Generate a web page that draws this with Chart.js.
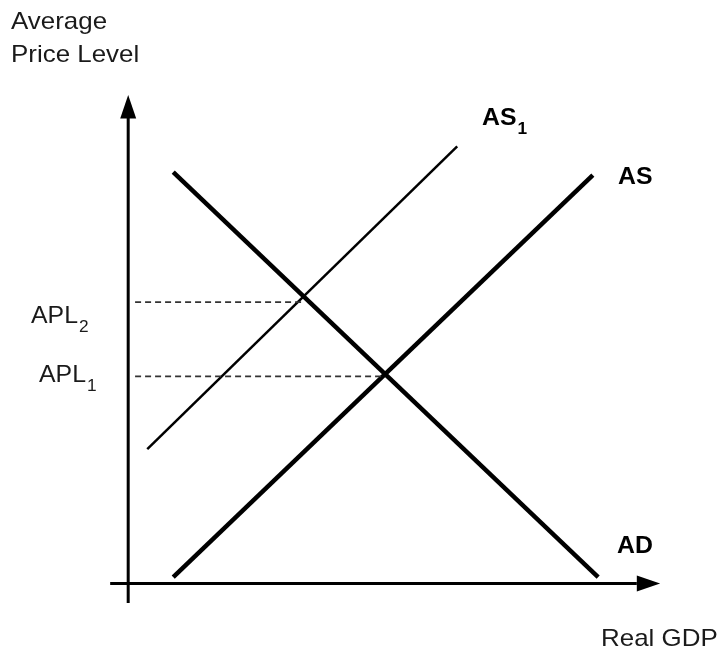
<!DOCTYPE html>
<html>
<head>
<meta charset="utf-8">
<script src="https://cdn.jsdelivr.net/npm/chart.js@4.4.0/dist/chart.umd.min.js"></script>
<style>
    html, body { margin: 0; padding: 0; background: #fff; }
</style>
</head>
<body>
<canvas id="myChart" width="717" height="648"></canvas>
<script>
// curve end points in (Real GDP, price level) units
const adX = [0.85, 8.87];
const adY = [8.42, 0.13];
const asX = [0.85, 8.77];
const asY = [0.13, 8.36];
const as1X = [0.36, 6.21];
const as1Y = [2.75, 8.95];
// equilibrium price levels and where the dashed guides stop
const aplNames = ['APL1', 'APL2'];
const aplY = [4.24, 5.76];
const aplX = [4.85, 3.28];
const guideStart = 0.13;

const toPoints = (xs, ys) => xs.map((v, i) => ({ x: v, y: ys[i] }));
const font = '"Liberation Sans", Arial, sans-serif';
const stretch = 1.08; // the reference text is a bit wide

// axes with arrow heads, drawn through the scales
const axesArrows = {
    id: 'axesArrows',
    beforeDatasetsDraw(chart) {
        const { ctx, scales: { x, y } } = chart;
        const x0 = x.getPixelForValue(0);
        const y0 = y.getPixelForValue(0);
        ctx.save();
        ctx.strokeStyle = '#000';
        ctx.fillStyle = '#000';
        ctx.lineWidth = 3;
        ctx.beginPath();
        ctx.moveTo(x0, y.getPixelForValue(-0.4));
        ctx.lineTo(x0, y.getPixelForValue(9.55));
        ctx.moveTo(x.getPixelForValue(-0.34), y0);
        ctx.lineTo(x.getPixelForValue(9.6), y0);
        ctx.stroke();
        // y arrow
        const yTip = y.getPixelForValue(10);
        const yBase = y.getPixelForValue(9.52);
        ctx.beginPath();
        ctx.moveTo(x0, yTip);
        ctx.lineTo(x0 - 8, yBase);
        ctx.lineTo(x0 + 8, yBase);
        ctx.closePath();
        ctx.fill();
        // x arrow
        const xTip = x.getPixelForValue(10.04);
        const xBase = x.getPixelForValue(9.6);
        ctx.beginPath();
        ctx.moveTo(xTip, y0);
        ctx.lineTo(xBase, y0 - 8);
        ctx.lineTo(xBase, y0 + 8);
        ctx.closePath();
        ctx.fill();
        ctx.restore();
    }
};

function wideText(ctx, txt, px, py) {
    ctx.save();
    ctx.translate(px, py);
    ctx.scale(stretch, 1);
    ctx.fillText(txt, 0, 0);
    ctx.restore();
    return ctx.measureText(txt).width * stretch;
}

function subText(ctx, main, sub, px, py, bold, size) {
    ctx.font = (bold ? 'bold ' : '') + size + 'px ' + font;
    const w = wideText(ctx, main, px, py);
    ctx.font = (bold ? 'bold ' : '') + Math.round(size * 0.7) + 'px ' + font;
    wideText(ctx, sub, px + w + 1, py + 9);
}

const labels = {
    id: 'labels',
    afterDraw(chart) {
        const { ctx } = chart;
        ctx.save();
        ctx.fillStyle = '#1a1a1a';
        ctx.textBaseline = 'alphabetic';
        ctx.font = '24px ' + font;
        wideText(ctx, 'Average', 11, 29);
        wideText(ctx, 'Price Level', 11, 62);
        wideText(ctx, 'Real GDP', 601, 646);
        subText(ctx, 'APL', aplNames[1].slice(3), 31, 323, false, 23);
        subText(ctx, 'APL', aplNames[0].slice(3), 39, 382, false, 23);
        ctx.fillStyle = '#000';
        subText(ctx, 'AS', '1', 482, 125, true, 23);
        ctx.font = 'bold 23px ' + font;
        wideText(ctx, 'AS', 618, 184);
        wideText(ctx, 'AD', 617, 553);
        ctx.restore();
    }
};

const cDiagram = document.getElementById('myChart');
const diagram = new Chart(cDiagram, {
    type: 'scatter',
    data: {
        datasets: [{
                label: 'APL2',
                data: toPoints([guideStart, aplX[1]], [aplY[1], aplY[1]]),
                showLine: true,
                borderColor: '#333',
                borderWidth: 1.8,
                borderDash: [6, 4],
                pointRadius: 0
            },
            {
                label: 'APL1',
                data: toPoints([guideStart, aplX[0]], [aplY[0], aplY[0]]),
                showLine: true,
                borderColor: '#333',
                borderWidth: 1.8,
                borderDash: [6, 4],
                pointRadius: 0
            },
            {
                label: 'AS1',
                data: toPoints(as1X, as1Y),
                showLine: true,
                borderColor: '#000',
                borderWidth: 2.5,
                pointRadius: 0
            },
            {
                label: 'AS',
                data: toPoints(asX, asY),
                showLine: true,
                borderColor: '#000',
                borderWidth: 4.5,
                pointRadius: 0
            },
            {
                label: 'AD',
                data: toPoints(adX, adY),
                showLine: true,
                borderColor: '#000',
                borderWidth: 4.5,
                pointRadius: 0
            }
        ]
    },
    options: {
        responsive: false,
        animation: false,
        layout: {
            padding: { left: 107, right: 59, top: 95, bottom: 45 }
        },
        plugins: {
            legend: { display: false },
            tooltip: { enabled: false }
        },
        scales: {
            x: { type: 'linear', min: -0.4, max: 10, display: false },
            y: { type: 'linear', min: -0.4, max: 10, display: false }
        }
    },
    plugins: [axesArrows, labels]
});
</script>
</body>
</html>
